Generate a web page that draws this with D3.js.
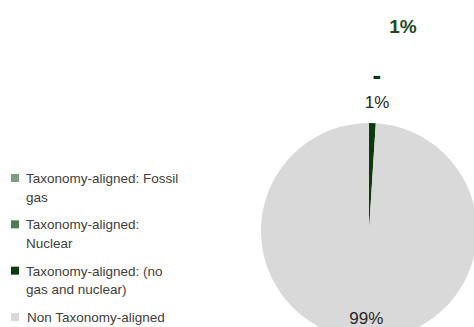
<!DOCTYPE html>
<html><head><meta charset="utf-8">
<script src="https://cdn.jsdelivr.net/npm/d3@7"></script>
<style>html,body{margin:0;padding:0;background:#fff;overflow:hidden}</style>
</head><body>
<svg id="chart" width="474" height="327"></svg>
<script>
const categories = ["Taxonomy-aligned: Fossil gas", "Taxonomy-aligned: Nuclear", "Taxonomy-aligned: (no gas and nuclear)", "Non Taxonomy-aligned"];
const legendLines = [["Taxonomy-aligned: Fossil", "gas"], ["Taxonomy-aligned:", "Nuclear"], ["Taxonomy-aligned: (no", "gas and nuclear)"], ["Non Taxonomy-aligned"]];
const values = [0, 0, 1, 99];
const colors = ["#7f9f80", "#4e7b52", "#0b3b0b", "#d9d9d9"];
const sliceLabels = ["", "", "1%", "99%"];
const totalLabel = "1%";
const dashLabel = "-";

const svg = d3.select("#chart");
const cx = 369, cy = 231, r = 108;

const pie = d3.pie().sort(null).value(d => d)(values);
const arc = d3.arc().innerRadius(0).outerRadius(r);
const g = svg.append("g").attr("transform", `translate(${cx},${cy})`);
g.selectAll("path").data(pie).join("path")
  .attr("d", arc).attr("fill", (d, i) => colors[i]);

// slice labels
const outerArc = d3.arc().innerRadius(r + 21).outerRadius(r + 21);
const innerArc = d3.arc().innerRadius(r * 0.81).outerRadius(r * 0.81);
g.selectAll("text.lbl").data(pie).join("text")
  .attr("class", "lbl")
  .filter((d, i) => sliceLabels[i] !== "")
  .attr("x", d => (d.value < 5 ? outerArc.centroid(d)[0] + 4 : innerArc.centroid(d)[0]))
  .attr("y", d => (d.value < 5 ? outerArc.centroid(d)[1] : innerArc.centroid(d)[1]))
  .attr("dy", "0.35em")
  .attr("text-anchor", "middle")
  .attr("font-family", "Liberation Sans, Arial, sans-serif")
  .attr("font-size", 17)
  .attr("fill", "#262626")
  .text(d => sliceLabels[d.index]);

// dash mark above small slice label
const small = pie[2];
const dp = d3.arc().innerRadius(r + 48).outerRadius(r + 48).centroid(small);
g.append("text")
  .attr("x", dp[0] + 3).attr("y", dp[1])
  .attr("dy", "0.35em")
  .attr("text-anchor", "middle")
  .attr("font-family", "Liberation Sans, Arial, sans-serif")
  .attr("font-weight", "bold").attr("font-size", 26)
  .attr("fill", colors[2])
  .text(dashLabel);

// bold total label
svg.append("text")
  .attr("x", 403).attr("y", 33)
  .attr("text-anchor", "middle")
  .attr("font-family", "Liberation Sans, Arial, sans-serif")
  .attr("font-weight", "bold").attr("font-size", 19)
  .attr("fill", "#1e4a1e")
  .text(totalLabel);

// legend
const legY = d3.scalePoint().domain(categories).range([178, 317]);
const lg = svg.append("g");
const items = lg.selectAll("g").data(categories).join("g")
  .attr("transform", d => `translate(11,${legY(d)})`);
items.append("rect").attr("x", 0).attr("y", -4).attr("width", 8).attr("height", 8)
  .attr("fill", (d, i) => colors[i]);
items.append("text")
  .attr("y", 5)
  .attr("font-family", "Liberation Sans, Arial, sans-serif")
  .attr("font-size", 13.5)
  .attr("fill", "#404040")
  .each(function(d, i) {
    const t = d3.select(this);
    legendLines[i].forEach((ln, j) => {
      t.append("tspan").attr("x", i === 3 ? 16 : 15).attr("dy", j === 0 ? 0 : 18.5).text(ln);
    });
  });
</script>
</body></html>
